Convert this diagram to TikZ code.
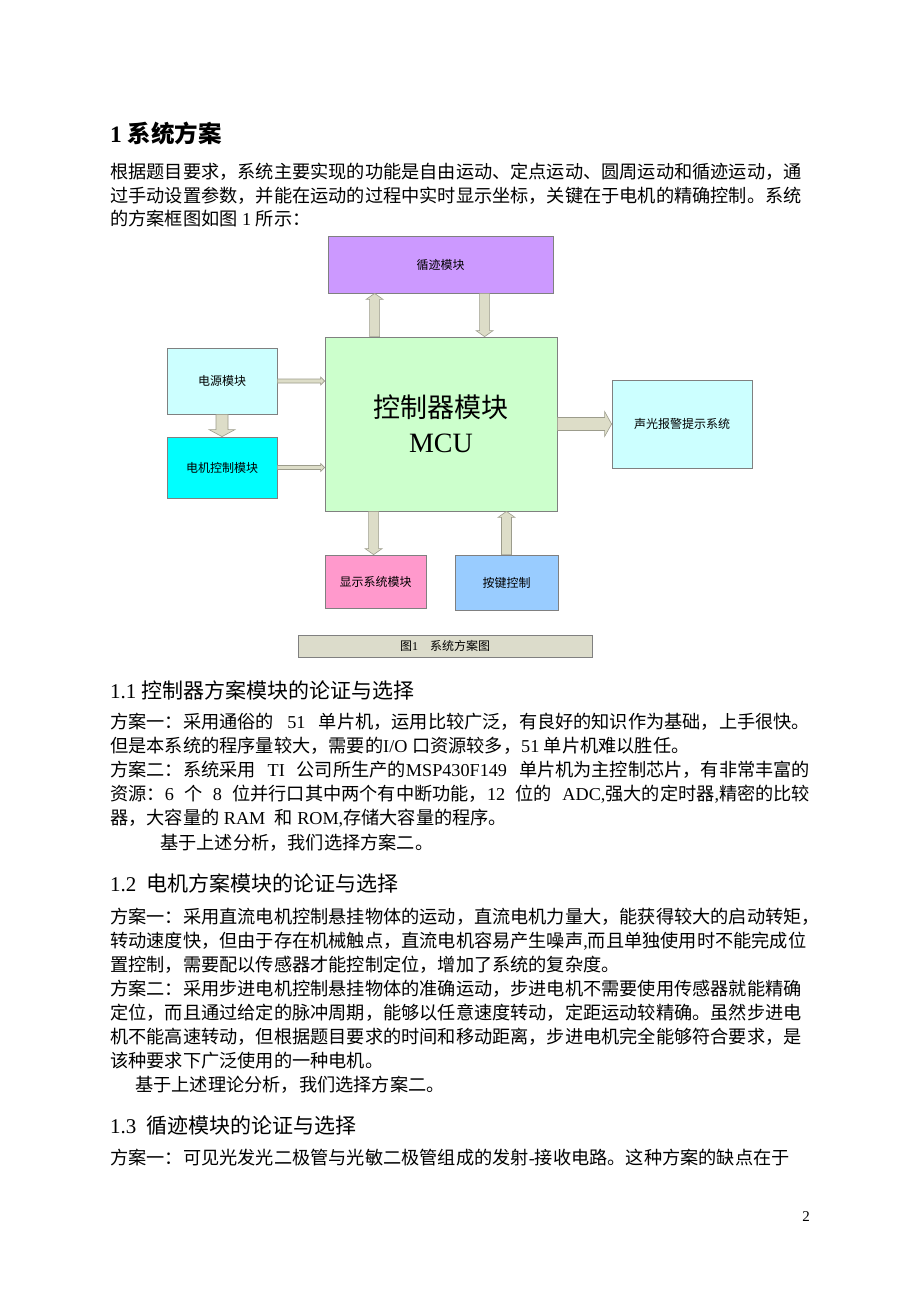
\documentclass[tikz,border=0pt]{standalone}
\usepackage{fontspec}
\setmainfont{Noto Sans CJK SC}
\newfontfamily\latfont{Liberation Serif}
\usetikzlibrary{calc}
\XeTeXlinebreaklocale "zh"
\XeTeXlinebreakskip=0pt plus 1pt
\newcommand\myL[1]{{\latfont #1}}
\newcommand\jl[1]{\makebox[700pt][s]{#1}}
\definecolor{purp}{HTML}{CC99FF}
\definecolor{lgreen}{HTML}{CCFFCC}
\definecolor{lcyan}{HTML}{CCFFFF}
\definecolor{cyanb}{HTML}{00FFFF}
\definecolor{pinkb}{HTML}{FF99CC}
\definecolor{blueb}{HTML}{99CCFF}
\definecolor{capc}{HTML}{DCDCCB}
\definecolor{arrf}{HTML}{DDDDC8}
\definecolor{arrd}{HTML}{9C9C8C}
\definecolor{bord}{HTML}{808080}
\tikzset{
  box/.style={draw=bord, line width=0.8pt, inner sep=0pt, font=\fontsize{12}{14}\selectfont},
  arr/.style={fill=arrf, draw=arrd, line width=0.6pt},
  txt/.style={anchor=west, inner sep=0pt, font=\fontsize{18.2}{22}\selectfont},
  sect/.style={anchor=west, inner sep=0pt, font=\fontsize{21}{25}\selectfont},
}
\newcommand\barrow[5]{%
  \coordinate (bh) at ($(#2)!#5!(#1)$);
  \filldraw[arr] ($(#1)!#3!90:(#2)$) -- ($(bh)!#3!90:(#2)$) -- ($(bh)!#4!90:(#2)$) -- (#2)
    -- ($(bh)!#4!-90:(#2)$) -- ($(bh)!#3!-90:(#2)$) -- ($(#1)!#3!-90:(#2)$) -- cycle;}
\begin{document}
\begin{tikzpicture}[x=1pt,y=-1pt]
\useasboundingbox[fill=white] (0,0) rectangle (920,1302);

% heading and intro
\node[anchor=west, inner sep=0pt, font=\fontsize{23.5}{28}\selectfont\bfseries] (h1) at (110,133) {\myL{1 }系统方案};
\node[txt] (p1) at (110,172) {\jl{根据题目要求，系统主要实现的功能是自由运动、定点运动、圆周运动和循迹运动，通}};
\node[txt] (p2) at (110,196) {\jl{过手动设置参数，并能在运动的过程中实时显示坐标，关键在于电机的精确控制。系统}};
\node[txt] (p3) at (110,219) {的方案框图如图\myL{ 1 }所示：};

% diagram boxes
\node[box, fill=purp, minimum width=225pt, minimum height=57pt] (xj) at (440.5,264.5) {循迹模块};
\node[box, fill=lgreen, minimum width=232pt, minimum height=174pt, align=center,
  font=\fontsize{27}{35}\selectfont] (mcu) at (441,424)
  {控制器模块\\{\fontsize{28}{35}\selectfont\myL{MCU}}};
\node[box, fill=lcyan, minimum width=110pt, minimum height=66pt] (dy) at (222,381) {电源模块};
\node[box, fill=cyanb, minimum width=110pt, minimum height=61pt] (dj) at (222,467.5) {电机控制模块};
\node[box, fill=lcyan, minimum width=140pt, minimum height=88pt] (sg) at (682,424) {声光报警提示系统};
\node[box, fill=pinkb, minimum width=101pt, minimum height=53pt] (xs) at (375.5,581.5) {显示系统模块};
\node[box, fill=blueb, minimum width=103pt, minimum height=55pt] (aj) at (506.5,582.5) {按键控制};
\node[box, fill=capc, minimum width=294pt, minimum height=22pt] (cap) at (445,646) {图\myL{1}\quad 系统方案图};

% block arrows
\coordinate (a1s) at ($(mcu.north west)+(50,0)$);
\coordinate (a1e) at (a1s |- xj.south);
\barrow{a1s}{a1e}{5pt}{8.5pt}{6pt}
\coordinate (a2s) at ($(xj.south west)+(157,0)$);
\coordinate (a2e) at (a2s |- mcu.north);
\barrow{a2s}{a2e}{5pt}{8.5pt}{6pt}
\coordinate (a3e) at (dy.east -| mcu.west);
\barrow{dy.east}{a3e}{2pt}{4pt}{4pt}
\coordinate (a4e) at (dj.east -| mcu.west);
\barrow{dj.east}{a4e}{2pt}{4pt}{4pt}
\barrow{dy.south}{dj.north}{6pt}{13pt}{7pt}
\barrow{mcu.east}{sg.west}{6.5pt}{12.5pt}{7pt}
\coordinate (a7s) at ($(mcu.south west)+(49,0)$);
\coordinate (a7e) at (a7s |- xs.north);
\barrow{a7s}{a7e}{5pt}{8.5pt}{6pt}
\coordinate (a8e) at (aj.north |- mcu.south);
\barrow{aj.north}{a8e}{5pt}{8.5pt}{6pt}

% section 1.1
\node[sect] (s11) at (110,690) {\myL{1.1 }控制器方案模块的论证与选择};
\node[txt] (b1) at (110,722) {\jl{方案一：采用通俗的\myL{ 51 }单片机，运用比较广泛，有良好的知识作为基础，上手很快。}};
\node[txt] (b2) at (110,746) {但是本系统的程序量较大，需要的\myL{I/O }口资源较多，\myL{51 }单片机难以胜任。};
\node[txt] (b3) at (110,770) {\jl{方案二：系统采用\myL{ TI }公司所生产的\myL{MSP430F149 }单片机为主控制芯片，有非常丰富的}};
\node[txt] (b4) at (110,794) {\jl{资源：\myL{6 }个\myL{ 8 }位并行口其中两个有中断功能，\myL{12 }位的\myL{ ADC,}强大的定时器\myL{,}精密的比较}};
\node[txt] (b5) at (110,818) {器，大容量的\myL{ RAM \ }和\myL{ ROM,}存储大容量的程序。};
\node[txt] (b6) at (160,843) {基于上述分析，我们选择方案二。};

% section 1.2
\node[sect] (s12) at (110,883) {\myL{1.2\ \ }电机方案模块的论证与选择};
\node[txt] (c1) at (110,917) {\jl{方案一：采用直流电机控制悬挂物体的运动，直流电机力量大，能获得较大的启动转矩，}};
\node[txt] (c2) at (110,941) {\jl{转动速度快，但由于存在机械触点，直流电机容易产生噪声\myL{,}而且单独使用时不能完成位}};
\node[txt] (c3) at (110,965) {置控制，需要配以传感器才能控制定位，增加了系统的复杂度。};
\node[txt] (c4) at (110,989) {\jl{方案二：采用步进电机控制悬挂物体的准确运动，步进电机不需要使用传感器就能精确}};
\node[txt] (c5) at (110,1013) {\jl{定位，而且通过给定的脉冲周期，能够以任意速度转动，定距运动较精确。虽然步进电}};
\node[txt] (c6) at (110,1037) {\jl{机不能高速转动，但根据题目要求的时间和移动距离，步进电机完全能够符合要求，是}};
\node[txt] (c7) at (110,1061) {该种要求下广泛使用的一种电机。};
\node[txt] (c8) at (135,1085) {基于上述理论分析，我们选择方案二。};

% section 1.3
\node[sect] (s13) at (110,1126) {\myL{1.3\ \ }循迹模块的论证与选择};
\node[txt] (d1) at (110,1158) {\jl{方案一：可见光发光二极管与光敏二极管组成的发射\myL{-}接收电路。这种方案的缺点在于}};

% page number
\node[inner sep=0pt, font=\fontsize{15}{18}\selectfont\latfont] (pg) at (806,1217) {2};
\end{tikzpicture}
\end{document}
